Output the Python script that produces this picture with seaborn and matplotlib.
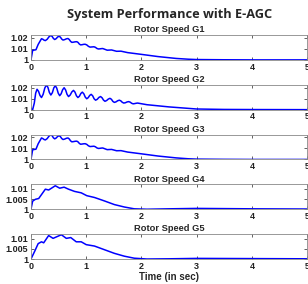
import pandas as pd
import matplotlib
matplotlib.use("Agg")
import matplotlib.pyplot as plt
import seaborn as sns

# Rotor speed traces (time in sec, speed in pu)
t_g1 = [0, 0.03, 0.09, 0.13, 0.19, 0.213, 0.237, 0.26, 0.293, 0.327, 0.36, 0.383, 0.407,
        0.43, 0.457, 0.483, 0.51, 0.533, 0.557, 0.58, 0.61, 0.64, 0.67, 0.693, 0.717,
        0.74, 0.77, 0.80, 0.83, 0.853, 0.877, 0.90, 0.927, 0.953, 0.98, 1.01, 1.04,
        1.07, 1.093, 1.117, 1.14, 1.167, 1.193, 1.22, 1.247, 1.273, 1.30, 1.38, 1.46,
        1.55, 1.63, 1.75, 2.0, 2.3, 2.63, 2.85, 3.0, 3.5, 4.0, 5.0]
y_g1 = [1.0, 1.0086, 1.0092, 1.0140, 1.0192, 1.0188, 1.0179, 1.0175, 1.0187, 1.0210,
        1.0222, 1.0213, 1.0194, 1.0185, 1.0193, 1.0208, 1.0215, 1.0206, 1.0189, 1.0180,
        1.0184, 1.0191, 1.0194, 1.0185, 1.0168, 1.0159, 1.0161, 1.0164, 1.0165, 1.0158,
        1.0143, 1.0136, 1.0138, 1.0141, 1.0142, 1.0136, 1.0123, 1.0116, 1.0117, 1.0118,
        1.0119, 1.0114, 1.0104, 1.0099, 1.0100, 1.0102, 1.0103, 1.0088, 1.0090, 1.0078,
        1.0079, 1.0066, 1.0050, 1.0030, 1.0013, 1.0006, 1.0003, 1.0001, 1.0, 1.0]

t_g2 = [0, 0.03, 0.06, 0.085, 0.11, 0.137, 0.163, 0.19, 0.22, 0.25, 0.28, 0.307, 0.333,
        0.36, 0.387, 0.413, 0.44, 0.467, 0.493, 0.52, 0.547, 0.573, 0.60, 0.627, 0.653,
        0.68, 0.71, 0.74, 0.77, 0.797, 0.823, 0.85, 0.877, 0.903, 0.93, 0.957, 0.983,
        1.01, 1.037, 1.063, 1.09, 1.117, 1.143, 1.17, 1.20, 1.23, 1.26, 1.287, 1.313,
        1.34, 1.37, 1.40, 1.43, 1.457, 1.483, 1.51, 1.54, 1.57, 1.60, 1.627, 1.653,
        1.68, 1.71, 1.74, 1.77, 1.797, 1.823, 1.85, 1.877, 1.903, 1.93, 2.1, 2.5, 3.0,
        3.5, 4.0, 5.0]
y_g2 = [1.001, 1.0, 1.0060, 1.0150, 1.0185, 1.0166, 1.0129, 1.0110, 1.0139, 1.0196,
        1.0225, 1.0202, 1.0156, 1.0133, 1.0154, 1.0197, 1.0218, 1.0195, 1.0150, 1.0127,
        1.0145, 1.0181, 1.0199, 1.0179, 1.0139, 1.0119, 1.0133, 1.0161, 1.0175, 1.0159,
        1.0126, 1.0110, 1.0122, 1.0147, 1.0159, 1.0144, 1.0114, 1.0099, 1.0109, 1.0129,
        1.0139, 1.0126, 1.0099, 1.0086, 1.0094, 1.0111, 1.0119, 1.0108, 1.0087, 1.0076,
        1.0083, 1.0096, 1.0103, 1.0094, 1.0075, 1.0066, 1.0071, 1.0081, 1.0086, 1.0080,
        1.0067, 1.0060, 1.0063, 1.0070, 1.0073, 1.0068, 1.0058, 1.0053, 1.0055, 1.0058,
        1.0060, 1.0045, 1.0025, 1.0006, 1.0002, 1.0001, 1.0]

t_g3 = list(t_g1)
y_g3 = [1.0, 1.0088, 1.0093, 1.0142, 1.0195, 1.0190, 1.0181, 1.0177, 1.0189, 1.0212,
        1.0224, 1.0215, 1.0196, 1.0187, 1.0195, 1.0209, 1.0216, 1.0207, 1.0190, 1.0181,
        1.0185, 1.0192, 1.0195, 1.0186, 1.0169, 1.0160, 1.0162, 1.0165, 1.0166, 1.0159,
        1.0145, 1.0138, 1.0140, 1.0142, 1.0143, 1.0137, 1.0124, 1.0117, 1.0118, 1.0119,
        1.0120, 1.0115, 1.0105, 1.0100, 1.0101, 1.0103, 1.0104, 1.0089, 1.0091, 1.0079,
        1.0080, 1.0067, 1.0051, 1.0031, 1.0014, 1.0006, 1.0003, 1.0001, 1.0, 1.0]

t_g4 = [0, 0.03, 0.08, 0.14, 0.26, 0.32, 0.44, 0.52, 0.60, 0.68, 0.79, 0.91, 1.01,
        1.15, 1.33, 1.51, 1.69, 1.87, 2.1, 2.5, 3.0, 3.5, 4.0, 5.0]
y_g4 = [1.0, 1.0040, 1.0049, 1.0053, 1.0099, 1.0095, 1.0116, 1.0104, 1.0109, 1.0099,
        1.0088, 1.0081, 1.0067, 1.0058, 1.0041, 1.0023, 1.0011, 1.0002, 1.0, 1.0002,
        1.0004, 1.0003, 1.0002, 1.0001]

t_g5 = [0, 0.07, 0.13, 0.19, 0.23, 0.32, 0.40, 0.55, 0.64, 0.72, 0.82, 0.91, 1.0,
        1.15, 1.33, 1.51, 1.69, 1.87, 2.1, 2.5, 3.0, 4.0, 5.0]
y_g5 = [1.0, 1.0040, 1.0076, 1.0085, 1.0080, 1.0116, 1.0102, 1.0120, 1.0102, 1.0106,
        1.0085, 1.0085, 1.0071, 1.0064, 1.0046, 1.0028, 1.0014, 1.0004, 1.0, 1.0001,
        1.0003, 1.0002, 1.0001]

series = [("Rotor Speed G1", t_g1, y_g1), ("Rotor Speed G2", t_g2, y_g2),
          ("Rotor Speed G3", t_g3, y_g3), ("Rotor Speed G4", t_g4, y_g4),
          ("Rotor Speed G5", t_g5, y_g5)]

yticks_big = [1, 1.01, 1.02]
ylabels_big = ["1", "1.01", "1.02"]
yticks_small = [1, 1.005, 1.01]
ylabels_small = ["1", "1.005", "1.01"]

sns.set_style("ticks")
plt.rcParams['font.family'] = ['Liberation Sans', 'DejaVu Sans']

fig, axes = plt.subplots(5, 1, figsize=(3.08, 2.84), dpi=100)
fig.subplots_adjust(left=0.1006, right=0.997, top=0.8768, bottom=0.088, hspace=1.0)

for i, (ax, (name, t, y)) in enumerate(zip(axes, series)):
    df = pd.DataFrame({'t': t, 'y': y})
    sns.lineplot(data=df, x='t', y='y', ax=ax, color='#0000ff', linewidth=1.1)
    ax.set_xlim(0, 5)
    if i < 3:
        ax.set_ylim(1.0, 1.0226)
        ax.set_yticks(yticks_big)
        ax.set_yticklabels(ylabels_big)
    else:
        ax.set_ylim(1.0, 1.0123)
        ax.set_yticks(yticks_small)
        ax.set_yticklabels(ylabels_small)
    ax.set_xticks([0, 1, 2, 3, 4, 5])
    ax.set_xticklabels(["0", "1", "2", "3", "4", "5"])
    ax.set_title(name, fontsize=6.7, fontweight='bold', pad=2)
    ax.set_xlabel("")
    ax.set_ylabel("")
    ax.tick_params(direction='in', length=2, width=0.5, labelsize=6.5,
                   top=True, right=True, pad=2, colors='#222222')
    for lbl in ax.get_xticklabels() + ax.get_yticklabels():
        lbl.set_fontweight('bold')
    for sp in ax.spines.values():
        sp.set_visible(True)
        sp.set_linewidth(0.6)
        sp.set_color('#888888')

axes[-1].set_xlabel("Time (in sec)", fontsize=7, fontweight='bold', labelpad=1)
fig.text(0.549, 0.95, "System Performance with E-AGC", ha='center', va='center',
         fontsize=9.2, fontweight='bold', family=['Open Sans', 'DejaVu Sans'])

fig.savefig("out.png", dpi=100)
